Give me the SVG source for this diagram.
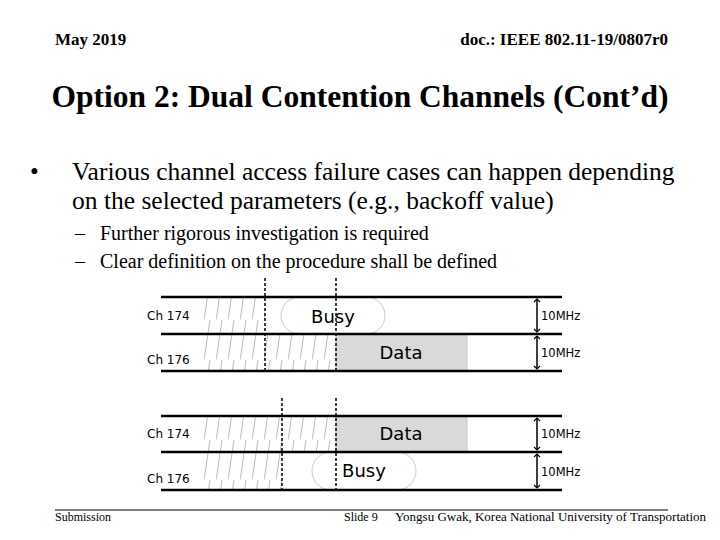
<svg xmlns="http://www.w3.org/2000/svg" width="720" height="540" viewBox="0 0 720 540">
<style>
.t{font-family:"Liberation Serif",serif;fill:#000}
.c{font-family:"DejaVu Sans","Liberation Sans",sans-serif;fill:#000}
.ln{stroke:#000;stroke-width:2.5}
.ds{stroke:#000;stroke-width:1.5;stroke-dasharray:3,2}
.h{stroke:#aaa;stroke-width:0.8}
.ar{stroke:#000;stroke-width:1.5;fill:none}
</style>
<defs>
<marker id="m" viewBox="0 0 10 10" refX="5" refY="5" markerWidth="5" markerHeight="5" orient="auto-start-reverse"><path d="M1,1 L5,5 L1,9" fill="none" stroke="#000" stroke-width="1.5"/></marker>
<pattern id="hp" width="12" height="40" patternUnits="userSpaceOnUse"><line x1="0" y1="40" x2="6" y2="0" class="h"/></pattern>
</defs>
<rect width="720" height="540" fill="#fff"/>
<text class="t" x="55" y="45" font-size="17" font-weight="bold">May 2019</text>
<text class="t" x="668" y="45" font-size="17" font-weight="bold" text-anchor="end">doc.: IEEE 802.11-19/0807r0</text>
<text class="t" x="360" y="107" font-size="31.5" font-weight="bold" text-anchor="middle">Option 2: Dual Contention Channels (Cont’d)</text>
<text class="t" x="30" y="180" font-size="25">•</text>
<text class="t" x="72" y="180" font-size="25.5">Various channel access failure cases can happen depending</text>
<text class="t" x="72" y="209" font-size="25.5">on the selected parameters (e.g., backoff value)</text>
<text class="t" x="75" y="240" font-size="20">–</text>
<text class="t" x="100" y="240" font-size="20">Further rigorous investigation is required</text>
<text class="t" x="75" y="268" font-size="20">–</text>
<text class="t" x="100" y="268" font-size="20">Clear definition on the procedure shall be defined</text>

<g id="diagram1">
<rect x="203" y="297" width="62" height="37" fill="url(#hp)"/>
<rect x="203" y="334" width="133" height="37" fill="url(#hp)"/>
<rect x="281" y="297" width="104" height="37" rx="18.5" fill="#fff" stroke="#bbb" stroke-width="0.8"/>
<text class="c" x="333" y="323" font-size="18" text-anchor="middle">Busy</text>
<rect x="336" y="334" width="131" height="37" fill="#d9d9d9" stroke="#bbb" stroke-width="0.8"/>
<text class="c" x="401" y="359" font-size="18" text-anchor="middle">Data</text>
<line x1="161" y1="297" x2="562" y2="297" class="ln"/>
<line x1="161" y1="334" x2="562" y2="334" class="ln"/>
<line x1="161" y1="371" x2="562" y2="371" class="ln"/>
<line x1="265" y1="278" x2="265" y2="371" class="ds"/>
<line x1="336" y1="278" x2="336" y2="371" class="ds"/>
<text class="c" x="147" y="320" font-size="12">Ch 174</text>
<text class="c" x="147" y="364" font-size="12">Ch 176</text>
<line x1="537" y1="299" x2="537" y2="332" class="ar" marker-start="url(#m)" marker-end="url(#m)"/>
<line x1="537" y1="336" x2="537" y2="369" class="ar" marker-start="url(#m)" marker-end="url(#m)"/>
<text class="c" x="541" y="320" font-size="11.5">10MHz</text>
<text class="c" x="541" y="357" font-size="11.5">10MHz</text>
</g>

<g id="diagram2">
<rect x="203" y="416" width="133" height="36" fill="url(#hp)"/>
<rect x="203" y="452" width="79" height="38" fill="url(#hp)"/>
<rect x="312" y="452" width="104" height="38" rx="19" fill="#fff" stroke="#bbb" stroke-width="0.8"/>
<text class="c" x="364" y="477" font-size="18" text-anchor="middle">Busy</text>
<rect x="336" y="416" width="131" height="36" fill="#d9d9d9" stroke="#bbb" stroke-width="0.8"/>
<text class="c" x="401" y="440" font-size="18" text-anchor="middle">Data</text>
<line x1="161" y1="416" x2="562" y2="416" class="ln"/>
<line x1="161" y1="452" x2="562" y2="452" class="ln"/>
<line x1="161" y1="490" x2="562" y2="490" class="ln"/>
<line x1="282" y1="398" x2="282" y2="490" class="ds"/>
<line x1="336" y1="398" x2="336" y2="490" class="ds"/>
<text class="c" x="147" y="438" font-size="12">Ch 174</text>
<text class="c" x="147" y="483" font-size="12">Ch 176</text>
<line x1="537" y1="418" x2="537" y2="450" class="ar" marker-start="url(#m)" marker-end="url(#m)"/>
<line x1="537" y1="454" x2="537" y2="488" class="ar" marker-start="url(#m)" marker-end="url(#m)"/>
<text class="c" x="541" y="438" font-size="11.5">10MHz</text>
<text class="c" x="541" y="476" font-size="11.5">10MHz</text>
</g>

<line x1="55" y1="510" x2="668" y2="510" stroke="#000" stroke-width="1"/>
<text class="t" x="55" y="521" font-size="12">Submission</text>
<text class="t" x="344" y="521" font-size="12">Slide 9</text>
<text class="t" x="395" y="521" font-size="13">Yongsu Gwak, Korea National University of Transportation</text>
</svg>
